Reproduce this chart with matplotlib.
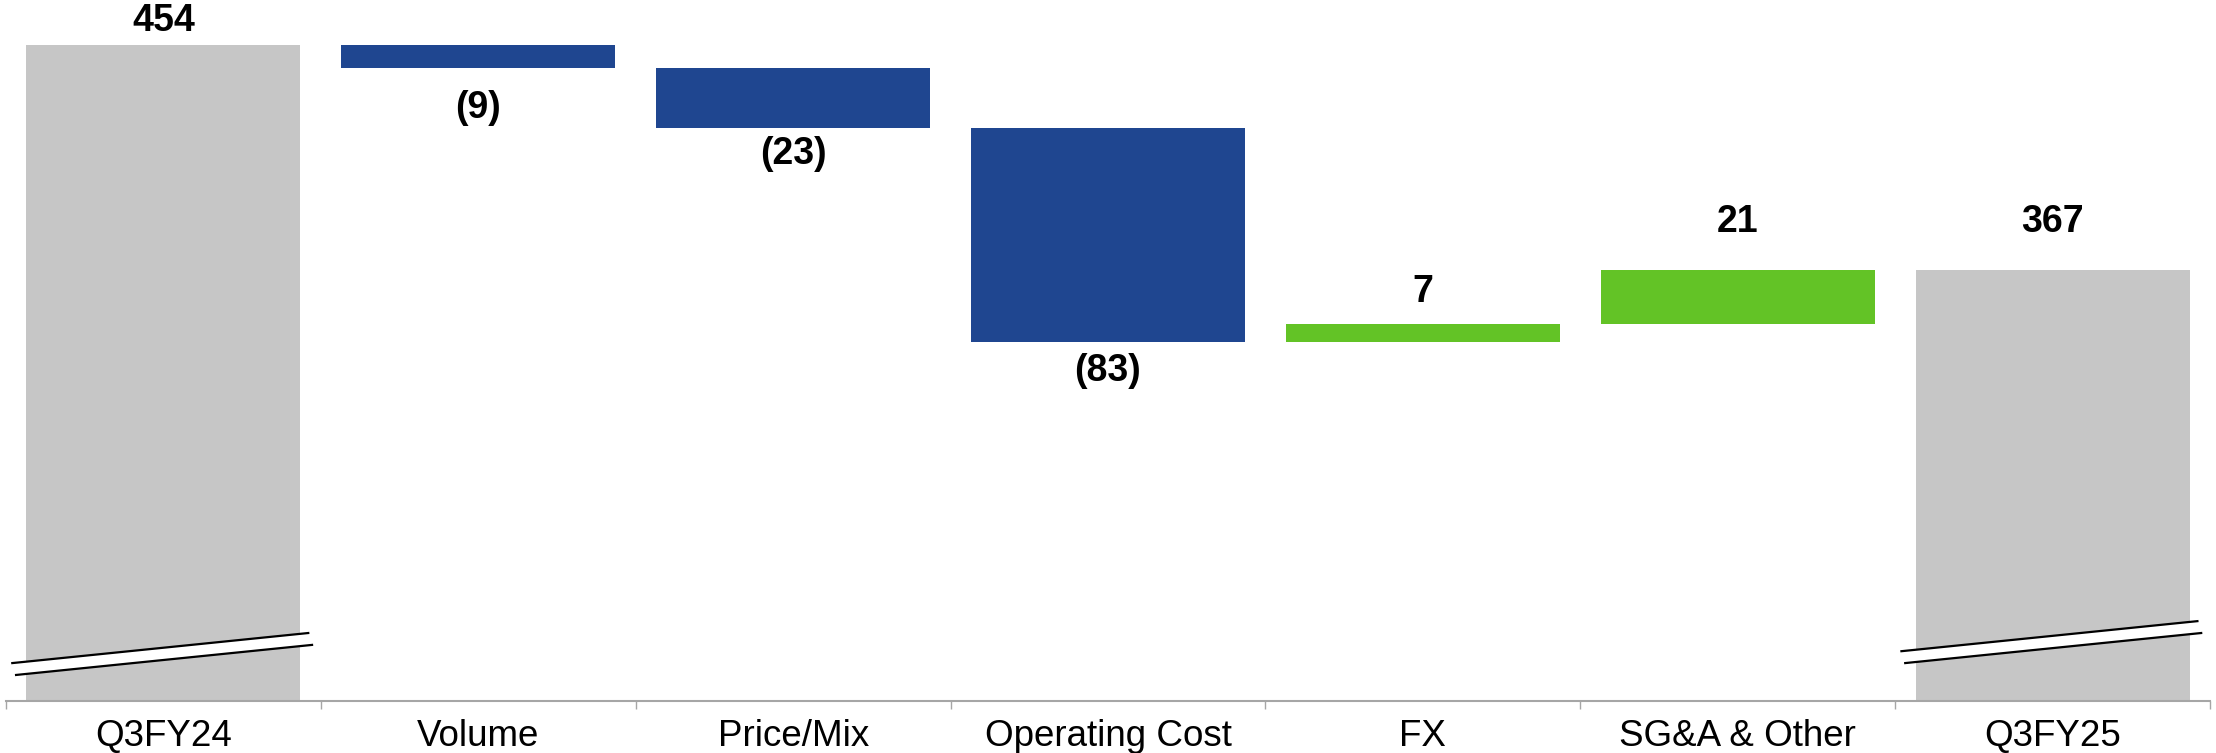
import numpy as np
import matplotlib
matplotlib.use('Agg')
import matplotlib.pyplot as plt

# data
categories = ['Q3FY24', 'Volume', 'Price/Mix', 'Operating Cost', 'FX', 'SG&A & Other', 'Q3FY25']
start_value = 454
changes = [-9, -23, -83, 7, 21]
end_value = 367

# label offsets (points, baseline relative to bar end) - style only
label_offset = [10, -36, -26, -28, 16, 27, 27]

GRAY = '#C6C6C6'
BLUE = '#1F4690'
GREEN = '#63C326'

plt.rcParams['font.family'] = ['Liberation Sans', 'DejaVu Sans']

fig = plt.figure(figsize=(22.16, 7.53), dpi=100)
ax = fig.add_axes([6 / 2216, 52 / 753, 2204 / 2216, 701 / 753])

ymin = 200
ymax = start_value + 45 / 2.586
ax.set_xlim(-0.5, len(categories) - 0.5)
ax.set_ylim(ymin, ymax)

width = 0.87
x = np.arange(len(categories))


def put_label(i, y, txt):
    ax.annotate(txt, (x[i], y), xytext=(0, label_offset[i]), textcoords='offset points',
                ha='center', va='baseline', fontsize=27, fontweight='bold',
                annotation_clip=False)


# totals
ax.bar(x[0], start_value, width=width, color=GRAY, zorder=1)
ax.bar(x[-1], end_value, width=width, color=GRAY, zorder=1)
put_label(0, start_value, str(start_value))
put_label(len(categories) - 1, end_value, str(end_value))

# running changes
level = start_value
for i, d in enumerate(changes, start=1):
    lo = level + min(d, 0)
    ax.bar(x[i], abs(d), bottom=lo, width=width,
           color=GREEN if d > 0 else BLUE, zorder=1)
    if d > 0:
        put_label(i, level + d, str(d))
    else:
        put_label(i, level + d, '({})'.format(-d))
    level += d


# axis break marks on the total bars
def draw_break(xc, yc):
    half = 0.47
    slope = 11.6 / 0.937
    gap = 4.6
    xs = np.array([xc - half, xc + half])
    y1 = yc + gap / 2 + slope * (xs - xc)
    y2 = yc - gap / 2 + slope * (xs - xc)
    ax.fill([xs[0], xs[1], xs[1], xs[0]], [y1[0], y1[1], y2[1], y2[0]],
            color='white', zorder=2, lw=0)
    ax.plot(xs, y1, color='black', lw=1.6, zorder=3)
    ax.plot(xs + 0.012, y2, color='black', lw=1.6, zorder=3)


draw_break(x[0] - 0.01, 218.2)
draw_break(x[-1] - 0.01, 222.8)

# axes styling
for s in ['top', 'right', 'left']:
    ax.spines[s].set_visible(False)
ax.spines['bottom'].set_color('#A6A6A6')
ax.spines['bottom'].set_linewidth(1.5)
ax.set_yticks([])
ax.set_xticks(x)
ax.set_xticklabels(categories, fontsize=26.5)
ax.tick_params(axis='x', which='major', length=0, pad=13)
ax.set_xticks(np.arange(len(categories) + 1) - 0.5, minor=True)
ax.tick_params(axis='x', which='minor', length=6, width=1, color='#A6A6A6')

fig.savefig('out.png', dpi=100)
